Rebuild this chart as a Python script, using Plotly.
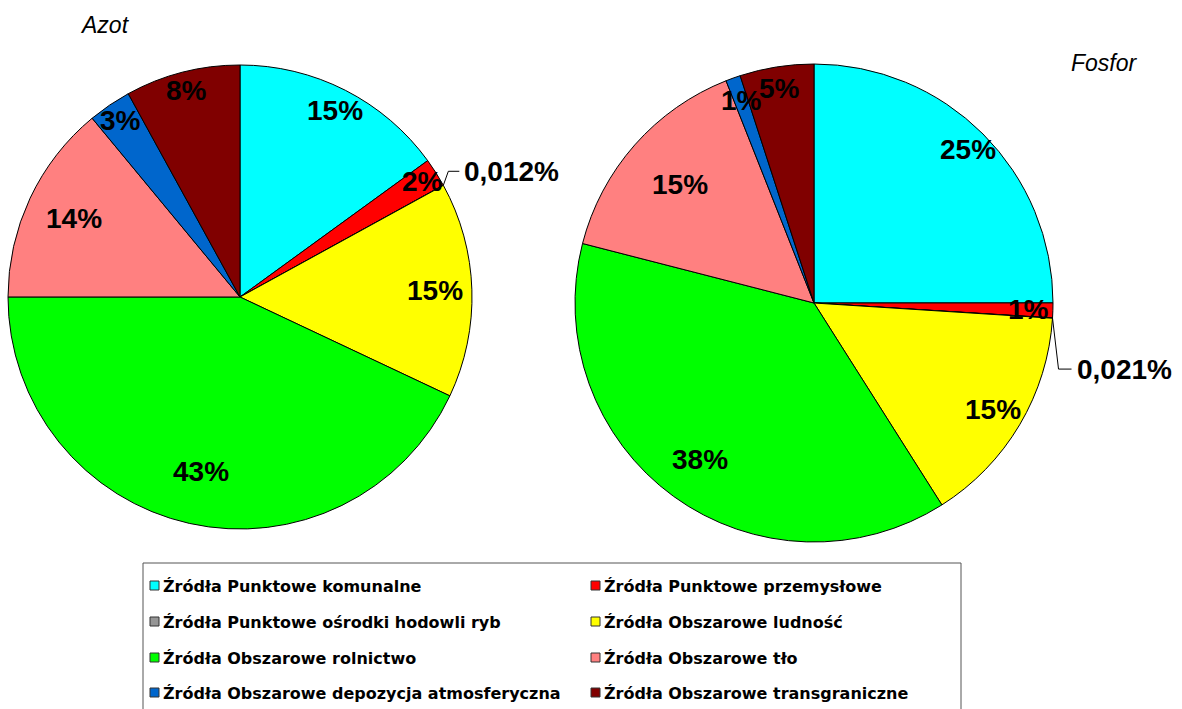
import math
import plotly.graph_objects as go

# ---------------- data ----------------
categories = [
    "Źródła Punktowe komunalne",
    "Źródła Punktowe przemysłowe",
    "Źródła Punktowe ośrodki hodowli ryb",
    "Źródła Obszarowe ludność",
    "Źródła Obszarowe rolnictwo",
    "Źródła Obszarowe tło",
    "Źródła Obszarowe depozycja atmosferyczna",
    "Źródła Obszarowe transgraniczne",
]
azot_values = [15, 2, 0.012, 15, 43, 14, 3, 8]
fosfor_values = [25, 1, 0.021, 15, 38, 15, 1, 5]
pie_titles = ["Azot", "Fosfor"]

# ---------------- styles ----------------
colors = ["#00FFFF", "#FF0000", "#969696", "#FFFF00",
          "#00FF00", "#FF8080", "#0066CC", "#800000"]
W, H = 1182, 709

pies = [
    dict(values=azot_values, cx=240, cy=297, r=232,
         frac=[0.90, 0.93, None, 0.84, 0.77, 0.79, 0.92, 0.92],
         leader=(5, -14, 11)),
    dict(values=fosfor_values, cx=814, cy=303, r=239,
         frac=[0.91, 0.90, None, 0.87, 0.81, 0.75, 0.90, 0.91],
         leader=(6, 51, 13)),
]


def px(x, y):
    return x / W, 1 - y / H


def fmt(v):
    return ("%g" % v).replace(".", ",") + "%"


fig = go.Figure()
annotations = []
shapes = []

for p in pies:
    cx, cy, r = p["cx"], p["cy"], p["r"]
    fig.add_trace(go.Pie(
        labels=categories, values=p["values"], sort=False,
        direction="clockwise", rotation=0,
        marker=dict(colors=colors, line=dict(color="#000000", width=1)),
        textinfo="none", showlegend=False,
        domain=dict(x=[(cx - r) / W, (cx + r) / W],
                    y=[1 - (cy + r) / H, 1 - (cy - r) / H]),
    ))
    total = sum(p["values"])
    cum = 0
    for i, v in enumerate(p["values"]):
        mid = (cum + v / 2) / total * 2 * math.pi
        cum += v
        f = p["frac"][i]
        if f is not None:
            x = cx + f * r * math.sin(mid)
            y = cy - f * r * math.cos(mid)
            ax, ay = px(x, y)
            annotations.append(dict(
                x=ax, y=ay, xref="paper", yref="paper", text="<b>" + fmt(v) + "</b>",
                showarrow=False, xanchor="center", yanchor="middle",
                font=dict(family="Liberation Sans, Arial", size=28, color="#000000"),
            ))
        else:
            # small slice: outside label with leader line
            ex = cx + r * math.sin(mid)
            ey = cy - r * math.cos(mid)
            dx1, dy1, dx2 = p["leader"]
            x1, y1 = ex + dx1, ey + dy1
            x2 = x1 + dx2
            pts = [px(ex, ey), px(x1, y1), px(x2, y1)]
            path = "M %f,%f L %f,%f L %f,%f" % (pts[0][0], pts[0][1], pts[1][0], pts[1][1], pts[2][0], pts[2][1])
            shapes.append(dict(type="path", path=path, xref="paper", yref="paper",
                               line=dict(color="#000000", width=1)))
            tx, ty = px(x2 + 3, y1)
            annotations.append(dict(
                x=tx, y=ty, xref="paper", yref="paper", text="<b>" + fmt(v) + "</b>",
                showarrow=False, xanchor="left", yanchor="middle",
                font=dict(family="Liberation Sans, Arial", size=28, color="#000000"),
            ))

# pie titles
for name, (tx, ty, anchor) in zip(pie_titles, [(78, 25, "left"), (1140, 63, "right")]):
    x, y = px(tx, ty)
    annotations.append(dict(
        x=x, y=y, xref="paper", yref="paper", text="<i>" + name + "</i>",
        showarrow=False, xanchor=anchor, yanchor="middle",
        font=dict(family="Liberation Sans, Arial", size=23, color="#000000"),
    ))

# legend box (two columns)
bx0, by0, bx1, by1 = 143, 563, 961, 712
x0, y0 = px(bx0, by0)
x1, y1 = px(bx1, by1)
shapes.append(dict(type="rect", xref="paper", yref="paper", x0=x0, y0=y1, x1=x1, y1=y0,
                   line=dict(color="#555555", width=1), fillcolor="rgba(0,0,0,0)"))
col_x = [150, 591]
row_y = [586, 622, 658, 693]
for i, (lab, c) in enumerate(zip(categories, colors)):
    sx = col_x[i % 2]
    sy = row_y[i // 2]
    a0 = px(sx, sy - 5)
    a1 = px(sx + 9, sy + 4)
    shapes.append(dict(type="rect", xref="paper", yref="paper",
                       x0=a0[0], y0=a1[1], x1=a1[0], y1=a0[1],
                       fillcolor=c, line=dict(color="#333333", width=1)))
    tx, ty = px(sx + 11, sy)
    annotations.append(dict(
        x=tx, y=ty, xref="paper", yref="paper", text="<b>" + lab + "</b>",
        showarrow=False, xanchor="left", yanchor="middle",
        font=dict(family="DejaVu Sans", size=16, color="#000000"),
    ))

fig.update_layout(
    width=W, height=H,
    margin=dict(l=0, r=0, t=0, b=0),
    paper_bgcolor="#FFFFFF", plot_bgcolor="#FFFFFF",
    annotations=annotations, shapes=shapes,
    showlegend=False,
)

fig.write_html("out.html")
